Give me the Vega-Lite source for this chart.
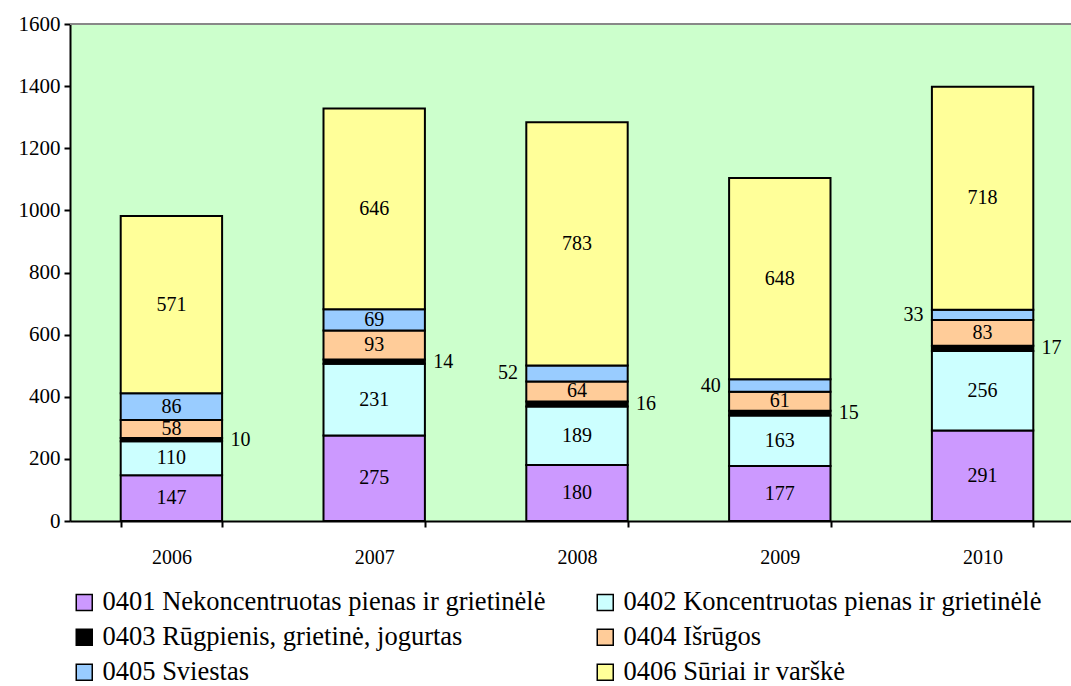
{
  "$schema": "https://vega.github.io/schema/vega-lite/v6.json",
  "width": 1001,
  "height": 497,
  "autosize": {"type": "none"},
  "padding": {"left": 70, "top": 24, "right": 0, "bottom": 165},
  "background": "white",
  "config": {
    "view": {"stroke": null, "fill": "#CCFFCC"},
    "font": "Liberation Serif",
    "text": {"font": "Liberation Serif"},
    "legend": {"labelFont": "Liberation Serif"},
    "axis": {"labelFont": "Liberation Serif"}
  },
  "data": {
    "values": [
      {"year": "2006", "code": "0401", "cat": "0401 Nekoncentruotas pienas ir grietinėlė", "value": 147},
      {"year": "2006", "code": "0402", "cat": "0402 Koncentruotas pienas ir grietinėlė", "value": 110},
      {"year": "2006", "code": "0403", "cat": "0403 Rūgpienis, grietinė, jogurtas", "value": 10},
      {"year": "2006", "code": "0404", "cat": "0404 Išrūgos", "value": 58},
      {"year": "2006", "code": "0405", "cat": "0405 Sviestas", "value": 86},
      {"year": "2006", "code": "0406", "cat": "0406 Sūriai ir varškė", "value": 571},
      {"year": "2007", "code": "0401", "cat": "0401 Nekoncentruotas pienas ir grietinėlė", "value": 275},
      {"year": "2007", "code": "0402", "cat": "0402 Koncentruotas pienas ir grietinėlė", "value": 231},
      {"year": "2007", "code": "0403", "cat": "0403 Rūgpienis, grietinė, jogurtas", "value": 14},
      {"year": "2007", "code": "0404", "cat": "0404 Išrūgos", "value": 93},
      {"year": "2007", "code": "0405", "cat": "0405 Sviestas", "value": 69},
      {"year": "2007", "code": "0406", "cat": "0406 Sūriai ir varškė", "value": 646},
      {"year": "2008", "code": "0401", "cat": "0401 Nekoncentruotas pienas ir grietinėlė", "value": 180},
      {"year": "2008", "code": "0402", "cat": "0402 Koncentruotas pienas ir grietinėlė", "value": 189},
      {"year": "2008", "code": "0403", "cat": "0403 Rūgpienis, grietinė, jogurtas", "value": 16},
      {"year": "2008", "code": "0404", "cat": "0404 Išrūgos", "value": 64},
      {"year": "2008", "code": "0405", "cat": "0405 Sviestas", "value": 52},
      {"year": "2008", "code": "0406", "cat": "0406 Sūriai ir varškė", "value": 783},
      {"year": "2009", "code": "0401", "cat": "0401 Nekoncentruotas pienas ir grietinėlė", "value": 177},
      {"year": "2009", "code": "0402", "cat": "0402 Koncentruotas pienas ir grietinėlė", "value": 163},
      {"year": "2009", "code": "0403", "cat": "0403 Rūgpienis, grietinė, jogurtas", "value": 15},
      {"year": "2009", "code": "0404", "cat": "0404 Išrūgos", "value": 61},
      {"year": "2009", "code": "0405", "cat": "0405 Sviestas", "value": 40},
      {"year": "2009", "code": "0406", "cat": "0406 Sūriai ir varškė", "value": 648},
      {"year": "2010", "code": "0401", "cat": "0401 Nekoncentruotas pienas ir grietinėlė", "value": 291},
      {"year": "2010", "code": "0402", "cat": "0402 Koncentruotas pienas ir grietinėlė", "value": 256},
      {"year": "2010", "code": "0403", "cat": "0403 Rūgpienis, grietinė, jogurtas", "value": 17},
      {"year": "2010", "code": "0404", "cat": "0404 Išrūgos", "value": 83},
      {"year": "2010", "code": "0405", "cat": "0405 Sviestas", "value": 33},
      {"year": "2010", "code": "0406", "cat": "0406 Sūriai ir varškė", "value": 718}
    ]
  },
  "layer": [
    {
      "mark": {"type": "rule", "color": "#888888", "strokeWidth": 2},
      "encoding": {"y": {"datum": 1600, "type": "quantitative"}}
    },
    {
      "mark": {"type": "bar", "stroke": "black", "strokeWidth": 2},
      "encoding": {
        "x": {
          "field": "year", "type": "nominal",
          "scale": {"range": [0, 1014], "paddingInner": 0.5, "paddingOuter": 0.25},
          "axis": {
            "title": null, "labelAngle": 0, "tickBand": "extent",
            "domainColor": "black", "domainWidth": 2, "tickColor": "black", "tickWidth": 2, "tickSize": 6,
            "labelFont": "Liberation Serif", "labelFontSize": 20, "labelColor": "black", "labelPadding": 20
          }
        },
        "y": {
          "field": "value", "type": "quantitative", "stack": "zero",
          "scale": {"domain": [0, 1600], "nice": false},
          "axis": {
            "title": null, "grid": false, "format": "d", "values": [0, 200, 400, 600, 800, 1000, 1200, 1400, 1600],
            "domainColor": "black", "domainWidth": 2, "tickColor": "black", "tickWidth": 2, "tickSize": 6,
            "labelFont": "Liberation Serif", "labelFontSize": 21, "labelColor": "black", "labelPadding": 4
          }
        },
        "order": {"field": "code", "type": "ordinal", "sort": "ascending"},
        "color": {
          "field": "cat", "type": "nominal",
          "scale": {
            "domain": ["0401 Nekoncentruotas pienas ir grietinėlė", "0403 Rūgpienis, grietinė, jogurtas", "0405 Sviestas", "0402 Koncentruotas pienas ir grietinėlė", "0404 Išrūgos", "0406 Sūriai ir varškė"],
            "range": ["#CC99FF", "#000000", "#99CCFF", "#CCFFFF", "#FFCC99", "#FFFF99"]
          },
          "legend": {
            "title": null, "orient": "none", "legendX": 1, "legendY": 565,
            "columns": 2, "columnPadding": 46, "rowPadding": 8,
            "symbolType": "square", "symbolSize": 256, "symbolStrokeColor": "black", "symbolStrokeWidth": 1.5,
            "labelFont": "Liberation Serif", "labelFontSize": 26.5, "labelColor": "black", "labelLimit": 0, "labelOffset": 5
          }
        }
      }
    },
    {
      "mark": {"type": "text", "font": "Liberation Serif", "fontSize": 20, "baseline": "middle", "align": "center", "color": "black"},
      "encoding": {
        "x": {"field": "year", "type": "nominal"},
        "y": {"field": "value", "type": "quantitative", "stack": "zero", "bandPosition": 0.5},
        "detail": {"field": "cat", "type": "nominal"},
        "order": {"field": "code", "type": "ordinal", "sort": "ascending"},
        "text": {"field": "value", "type": "quantitative"},
        "opacity": {"condition": {"test": "datum.code != '0403' && !(datum.code == '0405' && datum.year != '2006' && datum.year != '2007')", "value": 1}, "value": 0}
      }
    },
    {
      "mark": {"type": "text", "font": "Liberation Serif", "fontSize": 20, "baseline": "middle", "align": "left", "dx": 59, "color": "black"},
      "encoding": {
        "x": {"field": "year", "type": "nominal"},
        "y": {"field": "value", "type": "quantitative", "stack": "zero", "bandPosition": 0.5},
        "detail": {"field": "cat", "type": "nominal"},
        "order": {"field": "code", "type": "ordinal", "sort": "ascending"},
        "text": {"field": "value", "type": "quantitative"},
        "opacity": {"condition": {"test": "datum.code == '0403'", "value": 1}, "value": 0}
      }
    },
    {
      "mark": {"type": "text", "font": "Liberation Serif", "fontSize": 20, "baseline": "middle", "align": "right", "dx": -59, "color": "black"},
      "encoding": {
        "x": {"field": "year", "type": "nominal"},
        "y": {"field": "value", "type": "quantitative", "stack": "zero", "bandPosition": 0.5},
        "detail": {"field": "cat", "type": "nominal"},
        "order": {"field": "code", "type": "ordinal", "sort": "ascending"},
        "text": {"field": "value", "type": "quantitative"},
        "opacity": {"condition": {"test": "datum.code == '0405' && datum.year != '2006' && datum.year != '2007'", "value": 1}, "value": 0}
      }
    }
  ]
}
